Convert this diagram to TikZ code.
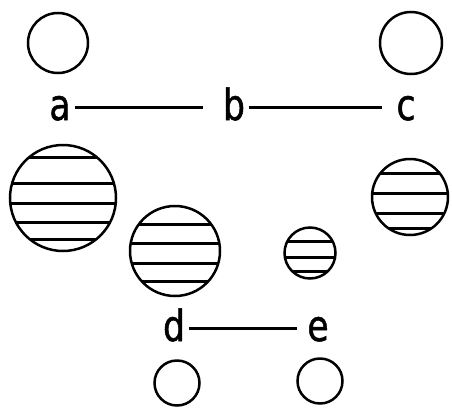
\documentclass[tikz,border=0pt]{standalone}
\usepackage{fontspec}
\newfontfamily\lblfont[FakeStretch=0.8, FakeBold=1.2]{DejaVu Sans}

\begin{document}
\begin{tikzpicture}[
    x=1pt, y=-1pt,
    hole/.style={draw, circle, line width=2.5pt, minimum size=#1, inner sep=0pt},
    banded/.style 2 args={hole=#1,
                 path picture={\foreach \dy in {#2}
                   \draw[line width=3pt] (path picture bounding box.center) ++(-60,\dy) -- ++(120,0);}},
    lbl/.style={font=\lblfont\fontsize{43}{43}\selectfont, text height=25pt,
                text depth=0pt, inner sep=2pt, anchor=base},
    link/.style={line width=2.3pt, shorten <=2pt}
  ]
    \useasboundingbox (0,0) rectangle (452,407);
    \node[hole=60pt] (topa) at (58,43) {};
    \node[hole=62pt] (topc) at (411,43) {};
    \node[lbl] (a) at (60,120) {a};
    \node[lbl] (b) at (234,120) {b};
    \node[lbl] (c) at (406,120) {c};
    \draw[link, shorten >=18pt] (a) -- (b);
    \draw[link, shorten >=12pt] (b) -- (c);
    \node[banded={106pt}{-41,-15,5,24,41}] (s1) at (63,198) {};
    \node[banded={90pt}{-27,-8,12,30}]      (s2) at (175,251) {};
    \node[banded={51pt}{-12,4,18}]          (s3) at (310,253) {};
    \node[banded={76pt}{-24,-4,16,31}]      (s4) at (410,197) {};
    \node[lbl] (d) at (174,341) {d};
    \node[lbl] (e) at (318,341) {e};
    \draw[link, shorten >=8pt] (d) -- (e);
    \node[hole=45pt] (botd) at (177,383) {};
    \node[hole=45pt] (bote) at (320,381) {};
  \end{tikzpicture}
\end{document}
